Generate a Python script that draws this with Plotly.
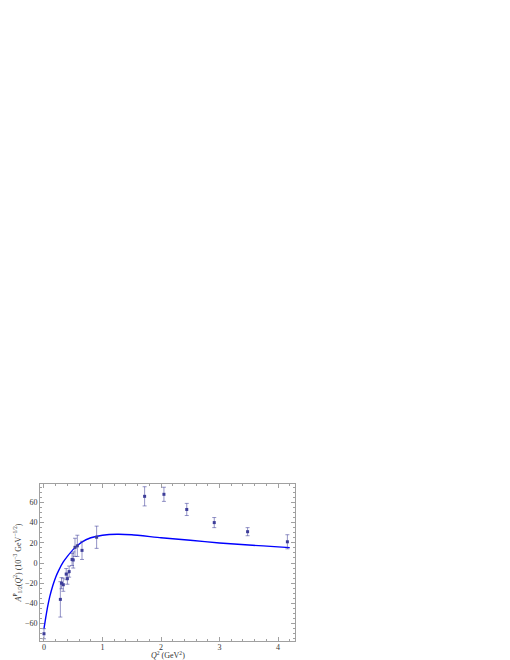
import plotly.graph_objects as go

# data (Q^2 in GeV^2, A_1/2 in 10^-3 GeV^-1/2)
q2_data = [0.0, 0.28, 0.30, 0.33, 0.38, 0.40, 0.43, 0.48, 0.50, 0.53, 0.57, 0.65, 0.90,
           1.72, 2.05, 2.44, 2.91, 3.48, 4.16]
a_data = [-70, -36, -20, -21.5, -11, -15.5, -8.5, 3.5, 3, 15.5, 17, 12.5, 25.5,
          66, 68, 53, 40, 31, 21]
a_err = [5, 17.5, 5.5, 6.5, 5.5, 5.5, 5.5, 6, 8, 9, 10.5, 9, 11,
         9.5, 7, 6, 5, 4, 7]

# model curve, read point by point
q2_curve = [0.0, 0.03, 0.06, 0.10, 0.15, 0.20, 0.25, 0.33, 0.40, 0.50, 0.64, 0.80, 1.0,
            1.25, 1.5, 2.0, 2.5, 3.0, 3.5, 4.0, 4.2]
a_curve = [-65, -54, -44, -33, -22.5, -14, -7.5, 1, 6.5, 13.5, 20.5, 25, 27.5,
           28.5, 28, 25, 22.5, 19.8, 17.8, 16, 15.2]

fig = go.Figure()

fig.add_trace(go.Scatter(
    x=q2_curve, y=a_curve, mode="lines",
    line=dict(color="#0000ff", width=1.4, shape="spline", smoothing=0.5),
    hoverinfo="skip",
))

fig.add_trace(go.Scatter(
    x=q2_data, y=a_data, mode="markers",
    marker=dict(symbol="square", size=3, color="#3d3d99"),
    error_y=dict(type="data", array=a_err, color="rgba(61,61,153,0.55)",
                 thickness=1, width=2),
))

axis_style = dict(
    showline=True, linecolor="#a0a0a0", linewidth=1, mirror="ticks",
    ticks="inside", ticklen=4, tickcolor="#a0a0a0", tickwidth=1,
    showgrid=False, zeroline=False,
    tickfont=dict(family="Liberation Serif", size=8, color="#333333"),
)

fig.update_xaxes(
    range=[-0.068, 4.29], tick0=0, dtick=1,
    minor=dict(ticks="inside", dtick=0.2, ticklen=2, tickcolor="#a0a0a0"),
    ticklabelstandoff=-2,
    **axis_style,
)
fig.update_yaxes(
    range=[-77.2, 78.2], tick0=0, dtick=20,
    minor=dict(ticks="inside", dtick=5, ticklen=2, tickcolor="#a0a0a0"),
    title=dict(text="<i>A</i><sup>P</sup><sub>1/2</sub>(<i>Q</i><sup>2</sup>) (10<sup>−3</sup> GeV<sup>−1/2</sup>)",
               font=dict(family="Liberation Serif", size=8, color="#333333"),
               standoff=2),
    **axis_style,
)

# x-axis title as an annotation so it stays inside the page
fig.add_annotation(
    text="<i>Q</i><sup>2</sup> (GeV<sup>2</sup>)",
    xref="paper", yref="paper", x=0.5, y=0,
    xanchor="center", yanchor="bottom", yshift=-21, showarrow=False,
    font=dict(family="Liberation Serif", size=8, color="#333333"),
)

fig.update_layout(
    width=510, height=660,
    margin=dict(l=32, r=223, t=476, b=27, autoexpand=False),
    plot_bgcolor="white", paper_bgcolor="white",
    showlegend=False,
)

fig.write_html("out.html")
